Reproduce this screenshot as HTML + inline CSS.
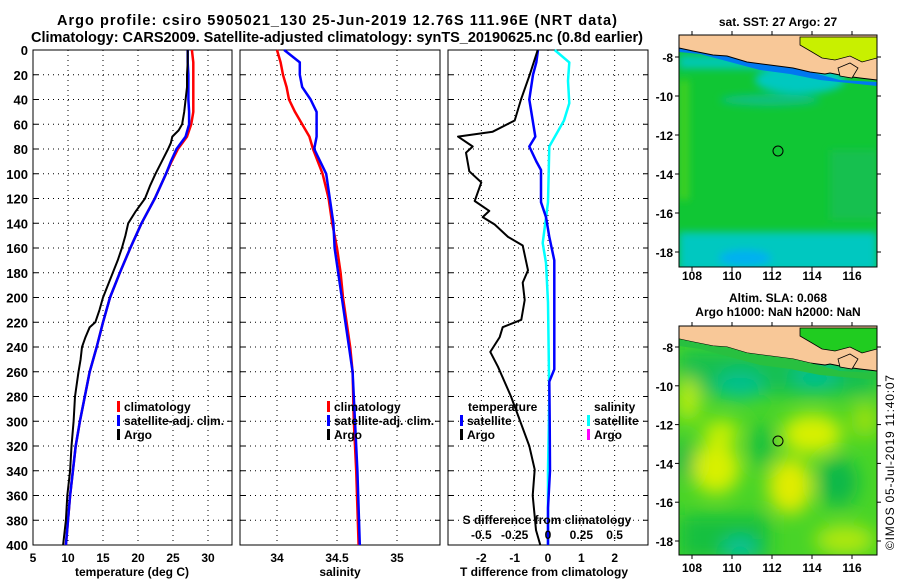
<!DOCTYPE html>
<html><head><meta charset="utf-8"><style>
body{margin:0;background:#fff;width:900px;height:580px;overflow:hidden}
svg{font-family:"Liberation Sans",sans-serif;font-weight:bold}
</style></head><body>
<svg id="c" width="900" height="580" xmlns="http://www.w3.org/2000/svg">
<defs>
<filter id="bl" x="-50%" y="-50%" width="200%" height="200%"><feGaussianBlur stdDeviation="9"/></filter>
<filter id="bl2"><feGaussianBlur stdDeviation="4"/></filter>
<clipPath id="m1"><rect x="679" y="35" width="198" height="232"/></clipPath>
<clipPath id="m2"><rect x="679" y="326" width="198" height="229"/></clipPath>
</defs>
<text x="337" y="25" text-anchor="middle" font-size="14.5" textLength="560">Argo profile: csiro 5905021_130 25-Jun-2019 12.76S 111.96E (NRT data)</text>
<text x="337" y="42" text-anchor="middle" font-size="14.5" textLength="612">Climatology: CARS2009. Satellite-adjusted climatology: synTS_20190625.nc (0.8d earlier)</text>
<g id="maps">
<text x="778" y="26" text-anchor="middle" font-size="12">sat. SST: 27 Argo: 27</text>
<g clip-path="url(#m1)">
<rect x="679" y="35" width="198" height="232" fill="#10c634"/>
<g filter="url(#bl2)">
<rect x="679" y="55" width="198" height="14" fill="#00c8b0"/>
<ellipse cx="800" cy="80" rx="45" ry="14" fill="#00c8c0"/>
<ellipse cx="770" cy="100" rx="50" ry="6" fill="#08c080"/>
<rect x="679" y="232" width="198" height="40" fill="#00c8c0"/>
<ellipse cx="745" cy="258" rx="26" ry="8" fill="#00b0f0"/>
<rect x="679" y="80" width="10" height="120" fill="#40d020"/>
<rect x="830" y="150" width="47" height="70" fill="#18c050"/>
</g>
<polygon points="679,48 693,51 713,55 727,56 747,62 770,65 793,68 810,72 825,76 840,80 877,82 877,86 820,80 790,74 760,70 730,62 700,54 679,52" fill="#0078f0"/>
<polygon points="679,35 877,35 877,80 860,78 845,76 830,73 825,74 810,72 793,68 770,65 747,62 727,56 713,55 693,51 679,48" fill="#f8c898" stroke="#000" stroke-width="1"/>
<polygon points="800,37 877,37 877,58 862,62 850,56 835,60 822,58 812,52 800,45" fill="#c8f000" stroke="#000" stroke-width="0.8"/>
<polygon points="838,68 850,63 858,68 852,78 840,76" fill="#f8c898" stroke="#000" stroke-width="0.8"/>
<circle cx="778" cy="151" r="5" fill="none" stroke="#000" stroke-width="1"/>
</g>
<rect x="679" y="35" width="198" height="232" fill="none" stroke="#000"/>
<text x="778" y="302" text-anchor="middle" font-size="12">Altim. SLA: 0.068</text>
<text x="778" y="316" text-anchor="middle" font-size="12">Argo h1000: NaN h2000: NaN</text>
<g clip-path="url(#m2)">
<rect x="679" y="326" width="198" height="229" fill="#48d428"/>
<g filter="url(#bl)">
<rect x="679" y="350" width="198" height="45" fill="#18c050"/>
<ellipse cx="740" cy="385" rx="25" ry="14" fill="#00c090"/>
<ellipse cx="815" cy="377" rx="25" ry="12" fill="#00c090"/>
<ellipse cx="688" cy="400" rx="12" ry="22" fill="#b8ec08"/>
<ellipse cx="721" cy="432" rx="18" ry="12" fill="#c8f000"/>
<ellipse cx="812" cy="434" rx="30" ry="20" fill="#d8f000"/>
<ellipse cx="716" cy="468" rx="24" ry="26" fill="#d8f000"/>
<ellipse cx="790" cy="486" rx="22" ry="28" fill="#e0ec00"/>
<ellipse cx="684" cy="460" rx="10" ry="20" fill="#10b848"/>
<ellipse cx="762" cy="446" rx="12" ry="22" fill="#18c040"/>
<ellipse cx="838" cy="482" rx="20" ry="25" fill="#10b848"/>
<rect x="679" y="515" width="90" height="45" fill="#18c040"/>
<ellipse cx="740" cy="548" rx="18" ry="10" fill="#00c0a0"/>
<ellipse cx="845" cy="540" rx="30" ry="15" fill="#b0e810"/>
<ellipse cx="865" cy="420" rx="14" ry="18" fill="#98e010"/>
</g>
<polygon points="679,326 877,326 877,371 860,369 845,367 830,364 825,365 810,363 793,359 770,356 747,353 727,347 713,346 693,342 679,339" fill="#f8c898" stroke="#000" stroke-width="1"/>
<polygon points="800,328 877,328 877,349 862,353 850,347 835,351 822,349 812,343 800,336" fill="#20cc20" stroke="#000" stroke-width="0.8"/>
<polygon points="679,339 693,342 713,346 727,347 747,353 770,356 793,359 810,363 825,367 840,371 877,373 877,380 820,375 790,369 760,365 730,357 700,349 679,346" fill="#28c040"/>
<polygon points="838,359 850,354 858,359 852,369 840,367" fill="#f8c898" stroke="#000" stroke-width="0.8"/>
<circle cx="778" cy="441" r="5" fill="none" stroke="#000" stroke-width="1"/>
</g>
<rect x="679" y="326" width="198" height="229" fill="none" stroke="#000"/>
<text transform="translate(894,550) rotate(-90)" font-size="12" font-weight="normal" textLength="175">©IMOS 05-Jul-2019 11:40:07</text>
</g>
</svg>
<script>
// ---- data ----
const depthT = [0,10,20,40,50,60,70,80,90,100,120,140,160,180,200,220,240,260,280,300,320,340,360,380,400];
const tempClim = [27.7,27.9,27.9,27.9,27.9,27.6,27.0,25.7,24.8,24.0,22.4,20.5,18.9,17.4,16.0,15.0,14.1,13.1,12.4,11.7,11.1,10.7,10.3,10.0,9.7];
const tempSat = [27.1,27.1,27.2,27.2,27.3,27.3,26.8,25.5,24.7,24.0,22.4,20.5,18.9,17.4,16.0,15.0,14.1,13.1,12.4,11.7,11.1,10.7,10.3,10.0,9.7];
const depthArgo = [0,10,20,30,40,50,60,65,70,75,80,90,100,110,120,131,140,150,160,170,180,190,200,210,220,224,232,240,250,260,280,300,320,340,360,380,400];
const tempArgo = [27.1,27.1,27.0,27.0,26.8,26.6,26.3,25.8,24.9,24.7,24.3,23.4,22.5,21.7,21.0,19.6,18.6,18.2,17.7,17.1,16.4,15.7,15.0,14.5,13.9,13.1,12.5,12.0,11.8,11.5,11.0,10.8,10.5,10.3,9.9,9.7,9.3];
const depthS = [0,10,20,30,40,50,60,70,80,90,100,120,140,160,180,200,220,240,260,300,340,400];
const salClim = [34.0,34.03,34.05,34.08,34.1,34.15,34.21,34.27,34.3,34.34,34.38,34.43,34.46,34.5,34.53,34.55,34.58,34.61,34.63,34.64,34.66,34.68];
const salSat = [34.06,34.19,34.19,34.21,34.28,34.33,34.33,34.33,34.31,34.36,34.41,34.44,34.47,34.48,34.51,34.54,34.57,34.6,34.63,34.65,34.67,34.69];
const depthDT = [0,10,20,40,57,70,78,90,97,108,123,135,151,170,194,218,258,268,300,340,370,400];
const tDiffSat = [-0.3,-0.35,-0.45,-0.56,-0.46,-0.38,-0.56,-0.35,-0.21,-0.21,-0.21,-0.06,0.04,0.19,0.19,0.19,0.19,0.04,0.05,0.06,0.0,0.0];
const depthDA = [0,20,40,57,66,70,78,83,98,107,122,130,135,141,151,158,178,188,202,218,224,232,244,256,280,293,320,339,360,388,400];
const tDiffArgo = [-0.31,-0.55,-0.81,-1.0,-1.66,-2.7,-2.26,-2.46,-2.36,-2.0,-2.2,-1.76,-1.96,-1.6,-1.2,-0.76,-0.6,-0.76,-0.7,-0.8,-1.36,-1.45,-1.73,-1.5,-1.11,-0.93,-0.56,-0.4,-0.46,-0.36,-0.23];
const depthDS = [0,10,25,43,57,78,123,156,172,204,280,340,400];
const sDiffSat = [0.05,0.16,0.15,0.16,0.12,0.01,0.0,-0.04,-0.015,0.0,0.01,0.0,0.0];
const depthTicks = [0,20,40,60,80,100,120,140,160,180,200,220,240,260,280,300,320,340,360,380,400];
const tTicks = [5,10,15,20,25,30];
const sTicks = [34,34.5,35];
const dtTicks = [-2,-1,0,1,2];
const dsTicks = [-0.5,-0.25,0,0.25,0.5];
const mapLon = [108,110,112,114,116];
const mapLat = [-8,-10,-12,-14,-16,-18];

// ---- axes ----
const Y0=50,Y1=545;
const yD = d => Y0 + d*(Y1-Y0)/400;
const xT = t => 33 + (t-5)*7;
const xS = s => 277 + (s-34)*120;
const xDT = v => 548 + v*33.33;
const xDS = v => 548 + v*133.3;
const svg = document.getElementById('c');
const NS='http://www.w3.org/2000/svg';
function mk(tag, attrs, parent){const e=document.createElementNS(NS,tag);for(const k in attrs)e.setAttribute(k,attrs[k]);(parent||svg).appendChild(e);return e;}
function txt(x,y,s,anchor,size){const e=mk('text',{x:x,y:y,'text-anchor':anchor||'middle','font-size':size||12});e.textContent=s;return e;}

const panels=[{x0:33,x1:232,xs:xT,ticks:tTicks,name:'temperature'},{x0:240,x1:440,xs:xS,ticks:sTicks,name:'salinity'},{x0:448,x1:648,xs:xDT,ticks:dtTicks,name:'t-diff'}];
panels.forEach(p=>{
  const g=mk('g',{});
  
  
  depthTicks.forEach(d=>{
    const l=mk('line',{x1:p.x0,x2:p.x1,y1:yD(d),y2:yD(d),stroke:'#000','stroke-width':1,'stroke-dasharray':'1,4'},g);
    
    
    mk('line',{x1:p.x0,x2:p.x0+5,y1:yD(d),y2:yD(d),stroke:'#000'},g);
    mk('line',{x1:p.x1-5,x2:p.x1,y1:yD(d),y2:yD(d),stroke:'#000'},g);
  });
  p.ticks.forEach(t=>{
    const x=p.xs(t);
    const l=mk('line',{x1:x,x2:x,y1:Y0,y2:Y1,stroke:'#000','stroke-width':1,'stroke-dasharray':'1,4'},g);
    
    
    const tl=txt(x,562,String(t));
    
    
  });
  const r=mk('rect',{x:p.x0,y:Y0,width:p.x1-p.x0,height:Y1-Y0,fill:'none',stroke:'#000'},g);
  
  
});
depthTicks.forEach(d=>{
  const t=txt(28,yD(d)+5,String(d),'end',13);
  
  
});
[[132,'temperature (deg C)'],[340,'salinity'],[544,'T difference from climatology']].forEach(a=>{
  const t=txt(a[0],576,a[1]);
  
  
});

function line(xs,ys,fx,color,w,name){
  const pts=xs.map((v,i)=>fx(v).toFixed(1)+','+yD(ys[i]).toFixed(1)).join(' ');
  const e=mk('polyline',{points:pts,fill:'none',stroke:color,'stroke-width':w,'stroke-linejoin':'round'});
  
  
}
line(tempClim,depthT,xT,'#f00',2.5,'temp-climatology-line');
line(tempSat,depthT,xT,'#00f',2.5,'temp-satellite-line');
line(tempArgo,depthArgo,xT,'#000',2,'temp-argo-line');
line(salClim,depthS,xS,'#f00',2.5,'sal-climatology-line');
line(salSat,depthS,xS,'#00f',2.5,'sal-satellite-line');
line(sDiffSat,depthDS,xDS,'#0ff',2.5,'s-diff-satellite-line');
line(tDiffSat,depthDT,xDT,'#00f',2.5,'t-diff-satellite-line');
line(tDiffArgo,depthDA,xDT,'#000',2,'t-diff-argo-line');

// legends
function leg(x,y,color,label){
  if(color){const r=mk('rect',{x:x,y:y-10,width:3,height:11,fill:color});}
  const t=txt(x+7,y,label,'start',12);
  
  
}
leg(117,411,'#f00','climatology');leg(117,425,'#00f','satellite-adj. clim.');leg(117,439,'#000','Argo');
leg(327,411,'#f00','climatology');leg(327,425,'#00f','satellite-adj. clim.');leg(327,439,'#000','Argo');
leg(461,411,null,'temperature');leg(460,425,'#00f','satellite');leg(460,439,'#000','Argo');
leg(587,411,null,'salinity');leg(587,425,'#0ff','satellite');leg(587,439,'#f0f','Argo');
const sdt=txt(547,524,'S difference from climatology');


dsTicks.forEach(v=>{
  const t=txt(xDS(v),539,String(v));
  
  
});

// map ticks
const lonX = l => 692 + (l-108)*20;
[[35,267,57,19.5,280],[326,555,347,19.4,572]].forEach(m=>{
  mapLon.forEach(l=>{
    const x=lonX(l);
    mk('line',{x1:x,x2:x,y1:m[0],y2:m[0]-4,stroke:'#000'});
    mk('line',{x1:x,x2:x,y1:m[1],y2:m[1]+4,stroke:'#000'});
    const t=txt(x,m[4],String(l));
    
    
  });
  mapLat.forEach(la=>{
    const y=m[2]+(-8-la)*m[3];
    mk('line',{x1:679,x2:675,y1:y,y2:y,stroke:'#000'});
    mk('line',{x1:877,x2:881,y1:y,y2:y,stroke:'#000'});
    const t=txt(673,y+5,String(la),'end',12);
    
    
  });
});
</script>
</body></html>
